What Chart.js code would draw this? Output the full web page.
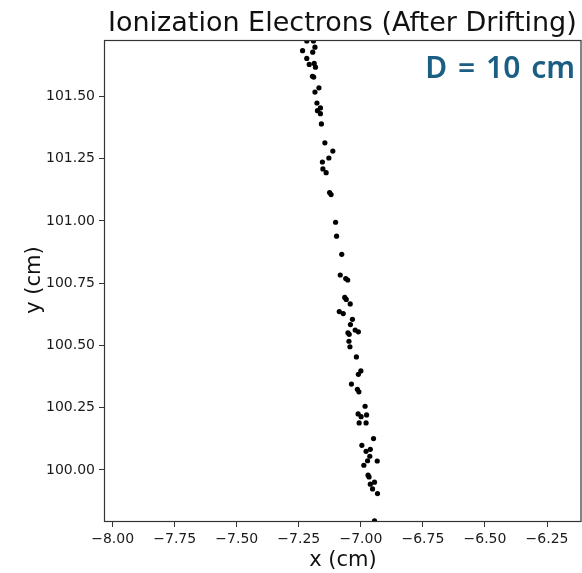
<!DOCTYPE html>
<html>
<head>
<meta charset="utf-8">
<script src="https://cdn.jsdelivr.net/npm/chart.js@4.4.1/dist/chart.umd.min.js"></script>
<style>
  html,body{margin:0;padding:0;background:#fff;}
  #wrap{width:582px;height:573px;position:relative;}
</style>
</head>
<body>
<div id="wrap"><canvas id="ch" width="582" height="573"></canvas></div>
<script>
// electron positions after drifting (cm)
const xCm=[-7.218,-7.191,-7.185,-7.235,-7.194,-7.218,-7.208,-7.188,-7.183,-7.195,-7.190,-7.169,-7.185,-7.177,-7.163,-7.175,-7.163,-7.159,-7.145,-7.113,-7.129,-7.155,-7.153,-7.140,-7.126,-7.120,-7.102,-7.098,-7.077,-7.083,-7.061,-7.053,-7.065,-7.059,-7.043,-7.087,-7.071,-7.034,-7.042,-7.023,-7.010,-7.052,-7.047,-7.048,-7.044,-7.018,-7.000,-7.010,-7.038,-7.014,-7.008,-6.983,-7.011,-6.999,-6.977,-7.007,-6.979,-6.949,-6.996,-6.979,-6.962,-6.964,-6.934,-6.973,-6.988,-6.971,-6.967,-6.945,-6.962,-6.953,-6.933,-6.945];
const yCm=[101.723,101.723,101.698,101.684,101.678,101.653,101.629,101.633,101.618,101.581,101.578,101.535,101.518,101.474,101.454,101.443,101.431,101.390,101.314,101.281,101.253,101.237,101.209,101.194,101.114,101.106,100.995,100.939,100.866,100.783,100.769,100.763,100.693,100.685,100.667,100.636,100.628,100.605,100.584,100.562,100.555,100.551,100.545,100.517,100.495,100.454,100.398,100.384,100.345,100.324,100.314,100.256,100.225,100.214,100.221,100.189,100.189,100.126,100.099,100.075,100.083,100.055,100.036,100.037,100.019,99.979,99.972,99.951,99.943,99.924,99.905,99.796];
const xRange=[-8.035,-6.109];
const yRange=[99.791,101.727];
const tickStep=0.25;

const fmt=v=>v.toFixed(2).replace("-","\u2212");
const ink="#1a1a1a";

// titulo, etiquetas de ejes, marco y el texto D = 10 cm
const deco={
  id:"deco",
  afterDraw(c){
    const g=c.ctx,a=c.chartArea;
    g.save();
    g.strokeStyle="#333";g.lineWidth=1.2;
    g.strokeRect(a.left+0.5,a.top+0.5,a.right-a.left-1.5,a.bottom-a.top-1);
    g.fillStyle="#111";
    g.font='27px "DejaVu Sans"';g.textAlign="left";g.textBaseline="alphabetic";
    g.fillText("Ionization Electrons (After Drifting)",108,31);
    g.font='21px "DejaVu Sans"';g.textAlign="center";
    g.fillText("x (cm)",343,566);
    g.translate(40,280);g.rotate(-Math.PI/2);
    g.fillText("y (cm)",0,0);
    g.restore();
    g.save();
    g.fillStyle="#1b5e84";g.font='600 30px "Noto Sans"';g.textAlign="right";g.textBaseline="alphabetic";
    g.wordSpacing="3px";
    g.fillText("D = 10 cm",575,78);
    g.restore();
  }
};

const axis=(r,fit)=>({
  type:"linear",min:r[0],max:r[1],
  ticks:{stepSize:tickStep,includeBounds:false,callback:v=>fmt(v),color:ink,font:{family:"DejaVu Sans",size:14},padding:4,maxRotation:0,autoSkip:false},
  grid:{drawOnChartArea:false,drawTicks:true,tickLength:5,color:"#333",tickWidth:1},
  border:{display:false},
  afterFit:fit
});

new Chart(document.getElementById("ch"),{
  type:"scatter",
  data:{datasets:[{data:xCm.map((x,i)=>({x:x,y:yCm[i]})),backgroundColor:"#000",borderWidth:0,pointRadius:2.6,clip:0}]},
  options:{
    responsive:false,animation:false,devicePixelRatio:1,
    layout:{autoPadding:false,padding:{top:40,left:0,right:0,bottom:0}},
    plugins:{legend:{display:false},tooltip:{enabled:false}},
    scales:{
      x:axis(xRange,s=>{s.height=51;s.paddingLeft=0;s.paddingRight=0;}),
      y:axis(yRange,s=>{s.width=104;s.paddingTop=0;s.paddingBottom=0;})
    }
  },
  plugins:[deco]
});
</script>
</body>
</html>
